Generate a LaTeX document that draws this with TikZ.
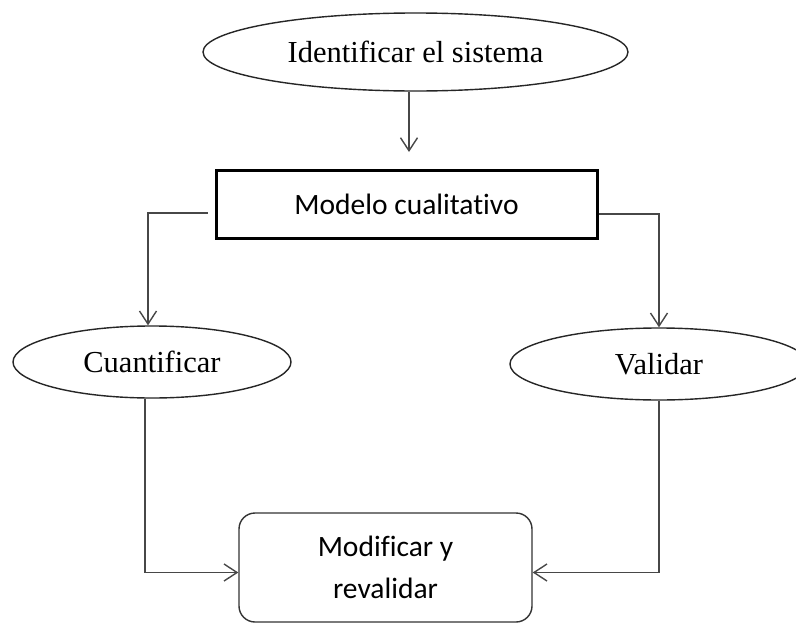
\documentclass[tikz,border=0pt]{standalone}
\usepackage{fontspec}
\setmainfont{Liberation Serif}
\newfontfamily\calibrifont[Ligatures={NoCommon}]{Carlito}
\usetikzlibrary{shapes.geometric,arrows.meta}
\tikzset{
  ell/.style={ellipse, draw=black!85, line width=1.4pt, inner sep=0pt, font=\fontsize{30.5}{34}\selectfont},
  rectbox/.style={rectangle, draw=black, line width=3pt, inner sep=0pt, font=\calibrifont\fontsize{29.5}{34}\selectfont},
  roundbox/.style={rectangle, rounded corners=16pt, draw=black!80, line width=1.4pt, inner sep=0pt, align=center, font=\calibrifont\fontsize{29.5}{42}\selectfont},
  arr/.style={draw=black!72, line width=1.4pt, -{Straight Barb[length=13pt,width=17pt,line width=1.4pt]}}
}
\begin{document}
\begin{tikzpicture}[x=1pt,y=-1pt]
\useasboundingbox (0,0) rectangle (796,624);
\clip (0,0) rectangle (796,624);
\fill[white] (0,0) rectangle (796,624);
\node[ell, minimum width=425pt, minimum height=78pt] (top) at (415.5,52) {Identificar el sistema};
\node[rectbox, minimum width=381pt, minimum height=68pt] (model) at (406.5,204) {Modelo cualitativo};
\node[ell, minimum width=278pt, minimum height=72pt] (cuant) at (152,362) {Cuantificar};
\node[ell, minimum width=298pt, minimum height=72pt] (valid) at (659,364) {Validar};
\node[roundbox, minimum width=293pt, minimum height=109pt] (box) at (385.5,567.5) {Modificar y\\revalidar};
\coordinate (t1) at (409,152);
\coordinate (lx) at (148,0);
\coordinate (lb) at (145,0);
\draw[arr] (top.south -| t1) -- (t1);
\draw[arr] ([xshift=-7pt,yshift=-9pt]model.west) -| (cuant.north -| lx);
\draw[arr] ([yshift=-10pt]model.east) -| (valid.north);
\draw[arr] (cuant.south -| lb) |- ([yshift=-5pt]box.west);
\draw[arr] (valid.south) |- ([yshift=-5pt]box.east);
\end{tikzpicture}
\end{document}
